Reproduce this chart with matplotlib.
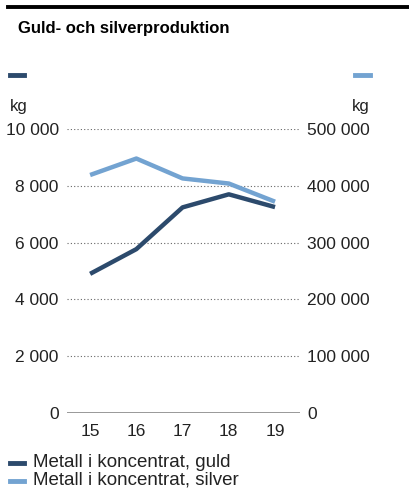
import matplotlib
matplotlib.use("Agg")
import matplotlib.pyplot as plt
from matplotlib.lines import Line2D

plt.rcParams["font.family"] = ["Liberation Sans Narrow", "Liberation Sans", "DejaVu Sans"]

######################### DATA #########################

years = ["15", "16", "17", "18", "19"]
gold_kg = [4900, 5770, 7240, 7700, 7250]
silver_kg = [419000, 448000, 413000, 404000, 372000]

left_ticks = [0, 2000, 4000, 6000, 8000, 10000]
right_ticks = [0, 100000, 200000, 300000, 400000, 500000]

DARK = "#2c4a6c"
LIGHT = "#73a3d1"
GRID = "#666666"


def fmt(v):
    return f"{v:,}".replace(",", " ")


######################### FIGURE #########################

fig = plt.figure(figsize=(4.1, 4.9), dpi=100)
W, H = 410, 490

ax = fig.add_axes([67 / W, 77 / H, 233 / W, 284 / H])
ax2 = ax.twinx()

x = list(range(len(years)))
ax.set_xlim(-0.5, 4.54)
ax.set_ylim(0, 10000)
ax2.set_ylim(0, 500000)

for t in left_ticks[1:]:
    ax.axhline(t, color=GRID, lw=0.8, ls=(0, (1, 2)), zorder=1)
ax.axhline(0, color="#888888", lw=1.2, zorder=1)

ax.plot(x, gold_kg, color=DARK, lw=3.2, solid_capstyle="butt", zorder=3)
ax2.plot(x, silver_kg, color=LIGHT, lw=3.2, solid_capstyle="butt", zorder=3)

for a in (ax, ax2):
    for s in a.spines.values():
        s.set_visible(False)
    a.tick_params(length=0)

ax.set_xticks(x)
ax.set_xticklabels(years, fontsize=12.5, color="#222222")
ax.tick_params(axis="x", pad=8)
ax.set_yticks(left_ticks)
ax.set_yticklabels([fmt(v) for v in left_ticks], fontsize=12.5, color="#222222")
ax.tick_params(axis="y", pad=6)
ax2.set_yticks(right_ticks)
ax2.set_yticklabels([fmt(v) for v in right_ticks], fontsize=12.5, color="#222222")
ax2.tick_params(axis="y", pad=5)

######################### HEADER / LEGEND #########################

fig.add_artist(Line2D([8 / W, 1], [1 - 7 / H, 1 - 7 / H], color="black", lw=2.8))
fig.text(18 / W, 1 - 28 / H, "Guld- och silverproduktion", fontsize=12,
         fontweight="bold", va="center", family=["Liberation Sans", "DejaVu Sans"])

fig.add_artist(Line2D([10 / W, 24 / W], [1 - 75 / H] * 2, color=DARK, lw=3.5))
fig.add_artist(Line2D([355 / W, 370 / W], [1 - 75 / H] * 2, color=LIGHT, lw=3.5))
fig.text(10 / W, 1 - 106 / H, "kg", fontsize=12, va="center", color="#222222")
fig.text(370 / W, 1 - 106 / H, "kg", fontsize=12, va="center", ha="right", color="#222222")

legend = [("Metall i koncentrat, guld", DARK, 462), ("Metall i koncentrat, silver", LIGHT, 480)]
for label, col, yy in legend:
    fig.add_artist(Line2D([10 / W, 24 / W], [1 - (yy + 1) / H] * 2, color=col, lw=3.5))
    fig.text(33 / W, 1 - yy / H, label, fontsize=13.5, va="center", color="#222222")

fig.savefig("out.png", dpi=100)
